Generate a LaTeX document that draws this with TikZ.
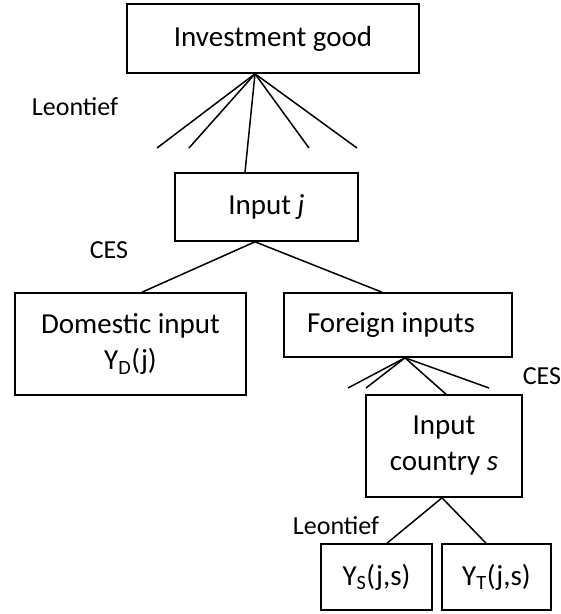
\documentclass[tikz,border=0pt]{standalone}
\usepackage{fontspec}
\setmainfont{Carlito}
\begin{document}
\begin{tikzpicture}[x=1pt,y=-1pt,
  box/.style={draw=black, line width=1.6pt, rectangle, inner sep=0pt, align=center,
    font=\fontsize{29}{36}\selectfont},
  lab/.style={inner sep=0pt, font=\fontsize{26}{31}\selectfont},
  conn/.style={draw=black, line width=1.5pt}]
\useasboundingbox (0,0) rectangle (561,614);
% boxes
\node[box, minimum width=292pt, minimum height=69pt] (inv) at (273,38.5) {Investment good};
\node[box, minimum width=183pt, minimum height=68pt] (inpj) at (266.5,207) {Input \textit{j}};
\node[box, minimum width=231pt, minimum height=102pt] (dom) at (130.5,344) {Domestic input\\Y\textsubscript{D}(j)};
\node[box, minimum width=228pt, minimum height=64pt] (for) at (398,325) {Foreign inputs\hspace{14pt}};
\node[box, minimum width=156pt, minimum height=102pt] (cty) at (444,446) {Input\\country \textit{s}};
\node[box, minimum width=111pt, minimum height=66pt] (ys) at (376.5,577) {Y\textsubscript{S}(j,s)};
\node[box, minimum width=109pt, minimum height=66pt] (yt) at (496.5,577) {Y\textsubscript{T}(j,s)};
% labels
\node[lab] (leo1) at (75,107) {Leontief};
\node[lab] (ces1) at (109,250) {CES};
\node[lab] (ces2) at (542,376) {CES};
\node[lab] (leo2) at (336,526) {Leontief};
% free ends
\coordinate (a1) at (157,148);
\coordinate (a2) at (189,148);
\coordinate (a3) at (309,148);
\coordinate (a4) at (357,148);
\coordinate (b1) at (348,388);
\coordinate (b2) at (366,388);
\coordinate (b3) at (489,388);
% connectors
\draw[conn] ([xshift=-18pt]inv.south) -- (a1);
\draw[conn] ([xshift=-18pt]inv.south) -- (a2);
\draw[conn] ([xshift=-18pt]inv.south) -- ([xshift=-21.5pt]inpj.north);
\draw[conn] ([xshift=-18pt]inv.south) -- (a3);
\draw[conn] ([xshift=-18pt]inv.south) -- (a4);
\draw[conn] ([xshift=-11.5pt]inpj.south) -- ([xshift=11.5pt]dom.north);
\draw[conn] ([xshift=-11.5pt]inpj.south) -- ([xshift=-16pt]for.north);
\draw[conn] ([xshift=7pt]for.south) -- (b1);
\draw[conn] ([xshift=7pt]for.south) -- (b2);
\draw[conn] ([xshift=7pt]for.south) -- ([xshift=2pt]cty.north);
\draw[conn] ([xshift=7pt]for.south) -- (b3);
\draw[conn] ([xshift=-2pt]cty.south) -- ([xshift=10.5pt]ys.north);
\draw[conn] ([xshift=-2pt]cty.south) -- ([xshift=-10.5pt]yt.north);
\end{tikzpicture}
\end{document}
